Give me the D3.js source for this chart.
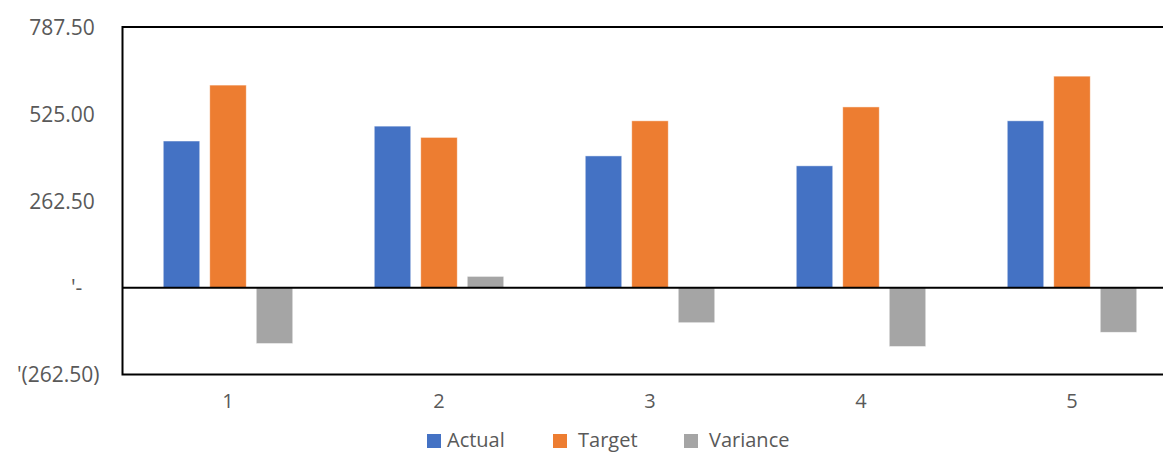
<!DOCTYPE html>
<html>
<head>
<meta charset="utf-8">
<script src="https://cdn.jsdelivr.net/npm/d3@7"></script>
<style>
  html, body { margin: 0; padding: 0; background: #fff; overflow: hidden; }
  svg { display: block; }
  text { font-family: "Open Sans", "Liberation Sans", sans-serif; fill: #595959; }
</style>
</head>
<body>
<svg id="chart" width="1163" height="452"></svg>
<script>
// Projects along the category axis
const categories = ["1", "2", "3", "4", "5"];

// Series values
const actual   = [443, 488, 398, 368, 504];
const target   = [612, 454, 504, 546, 639];
const variance = [-169, 34, -106, -178, -135];

const seriesNames = ["Actual", "Target", "Variance"];
const seriesColors = ["#4472C4", "#ED7D31", "#A5A5A5"];

// Value axis ticks and their accounting-style labels
const yTicks = [-262.5, 0, 262.5, 525, 787.5];
const yTickLabels = ["'(262.50)", "'-", "262.50", "525.00", "787.50"];

const svg = d3.select("#chart");

const plot = { left: 122.5, right: 1177.5, top: 27, bottom: 374.5 };

const y = d3.scaleLinear()
  .domain([yTicks[0], yTicks[yTicks.length - 1]])
  .range([plot.bottom, plot.top]);

const x0 = d3.scaleBand()
  .domain(categories)
  .range([plot.left, plot.right]);

// Bars occupy the middle part of each category band
const groupPad = 40.75;
const x1 = d3.scaleBand()
  .domain(seriesNames)
  .range([groupPad, x0.bandwidth() - groupPad])
  .paddingInner(0.215);

const rows = categories.map((c, i) => ({
  cat: c,
  values: [actual[i], target[i], variance[i]]
}));

// Bars
const groups = svg.append("g").selectAll("g")
  .data(rows)
  .join("g")
  .attr("transform", d => `translate(${x0(d.cat)},0)`);

groups.selectAll("rect")
  .data(d => d.values.map((v, k) => ({ name: seriesNames[k], v, k })))
  .join("rect")
  .attr("x", d => x1(d.name))
  .attr("width", x1.bandwidth())
  .attr("y", d => y(Math.max(0, d.v)))
  .attr("height", d => Math.abs(y(d.v) - y(0)))
  .attr("fill", d => seriesColors[d.k])
  .attr("stroke", "#ffffff")
  .attr("stroke-opacity", 0.6)
  .attr("stroke-width", 0.8);

// Plot area border
svg.append("rect")
  .attr("x", plot.left)
  .attr("y", plot.top)
  .attr("width", plot.right - plot.left)
  .attr("height", plot.bottom - plot.top)
  .attr("fill", "none")
  .attr("stroke", "#000")
  .attr("stroke-width", 2);

// Zero line
svg.append("line")
  .attr("x1", plot.left)
  .attr("x2", plot.right)
  .attr("y1", y(0))
  .attr("y2", y(0))
  .attr("stroke", "#000")
  .attr("stroke-width", 2);

// Value axis
const yAxis = svg.append("g")
  .attr("transform", `translate(${plot.left - 23},0)`)
  .call(d3.axisLeft(y)
    .tickValues(yTicks)
    .tickSize(0)
    .tickPadding(0)
    .tickFormat((d, i) => yTickLabels[i]));
yAxis.select(".domain").remove();
yAxis.selectAll("text")
  .attr("font-size", 21)
  .attr("font-family", null)
  .attr("fill", "#595959")
  .attr("dy", "0.35em");

// Accounting format pads positive values by a parenthesis width and the dash by a digit more
const probe = svg.append("text").attr("font-size", 21).attr("visibility", "hidden");
const parenW = probe.text(")").node().getComputedTextLength();
const digitW = probe.text("0").node().getComputedTextLength();
probe.remove();
yAxis.selectAll("text")
  .attr("dx", (d, i) => {
    const t = yTickLabels[i];
    if (t.endsWith(")")) return 0;
    if (t === "'-") return -(parenW + digitW) + 1;
    return -parenW + 1.5;
  });

// Category axis
const xAxis = svg.append("g")
  .attr("transform", `translate(0,${plot.bottom})`)
  .call(d3.axisBottom(x0).tickSize(0).tickPadding(0));
xAxis.select(".domain").remove();
xAxis.selectAll("text")
  .attr("font-size", 20)
  .attr("font-family", null)
  .attr("fill", "#595959")
  .attr("dy", "1.65em");

// Legend
const legendX = [427, 553, 684];
const legend = svg.append("g").selectAll("g")
  .data(seriesNames)
  .join("g")
  .attr("transform", (d, i) => `translate(${legendX[i]},434)`);
legend.append("rect")
  .attr("width", 14)
  .attr("height", 14)
  .attr("fill", (d, i) => seriesColors[i]);
legend.append("text")
  .attr("x", (d, i) => i === 0 ? 20 : 25)
  .attr("y", 13)
  .attr("font-size", 20)
  .text(d => d);
</script>
</body>
</html>
